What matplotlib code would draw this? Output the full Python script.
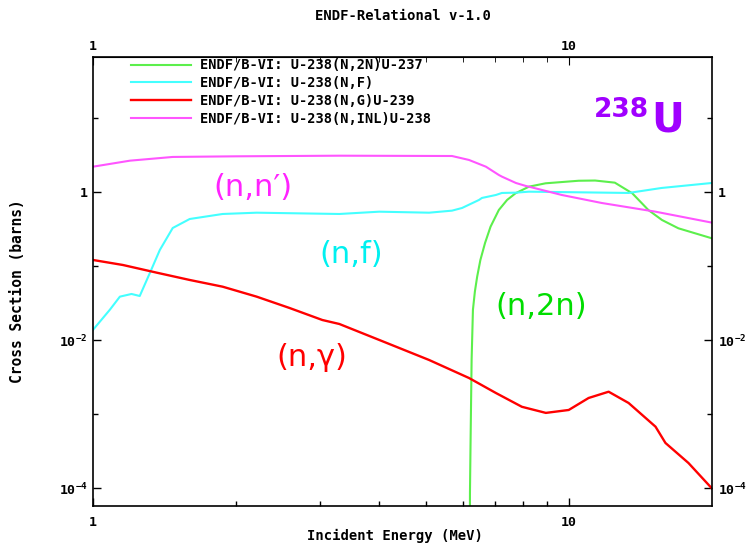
import matplotlib
matplotlib.use("Agg")
import matplotlib.pyplot as plt
from matplotlib.ticker import NullFormatter

plt.rcParams['font.family'] = 'DejaVu Sans Mono'
plt.rcParams['font.weight'] = 'bold'
plt.rcParams['mathtext.fontset'] = 'custom'
plt.rcParams['mathtext.bf'] = 'DejaVu Sans Mono:bold'
plt.rcParams['mathtext.rm'] = 'DejaVu Sans Mono:bold'

#### data (energy in MeV, cross section in barns)

# U-238 (n,2n)
n2n_e = [6.19, 6.20, 6.22, 6.25, 6.29, 6.35, 6.42, 6.52, 6.67, 6.85, 7.13, 7.42, 7.73,
         8.25, 8.94, 10.49, 11.36, 12.5, 13.6, 14.7, 15.7, 17.0, 20.0]
n2n_s = [1e-6, 8.7e-5, 0.0005, 0.0055, 0.026, 0.046, 0.0728, 0.122, 0.208, 0.345, 0.58,
         0.792, 0.975, 1.198, 1.33, 1.44, 1.45, 1.357, 0.975, 0.58, 0.425, 0.328, 0.24]

# U-238 (n,f)
fis_e = [1.0, 1.085, 1.139, 1.205, 1.254, 1.317, 1.382, 1.471, 1.597, 1.873, 2.208,
         3.295, 3.997, 5.087, 5.684, 5.967, 6.476, 6.57, 7.03, 7.237, 7.743, 8.246,
         13.36, 15.67, 20.0]
fis_s = [0.0139, 0.026, 0.0391, 0.0425, 0.0399, 0.0817, 0.167, 0.331, 0.438, 0.512,
         0.533, 0.512, 0.55, 0.533, 0.568, 0.617, 0.792, 0.843, 0.925, 0.985, 0.994,
         1.025, 0.985, 1.15, 1.344]

# U-238 (n,g)
cap_e = [1.0, 1.156, 1.362, 1.597, 1.873, 2.208, 2.588, 3.035, 3.295, 3.997, 5.087,
         6.171, 7.03, 7.971, 8.951, 10.0, 11.01, 12.13, 13.36, 15.22, 15.97, 17.85, 20.0]
cap_s = [0.1224, 0.1047, 0.0824, 0.0657, 0.0533, 0.0391, 0.0275, 0.0189, 0.0167,
         0.01016, 0.00545, 0.00311, 0.00195, 0.00127, 0.00105, 0.00115, 0.00167,
         0.00203, 0.00143, 0.000684, 0.000412, 0.000221, 0.0001]

# U-238 (n,inl)
inl_e = [1.0, 1.196, 1.471, 2.0, 3.295, 5.684, 6.171, 6.698, 7.133, 7.24, 7.743,
         8.126, 8.246, 9.667, 11.73, 15.22, 20.0]
inl_s = [2.23, 2.69, 3.02, 3.08, 3.14, 3.11, 2.75, 2.23, 1.72, 1.635, 1.344, 1.224,
         1.198, 0.925, 0.721, 0.55, 0.391]

legend_labels = ['ENDF/B-VI: U-238(N,2N)U-237',
                 'ENDF/B-VI: U-238(N,F)',
                 'ENDF/B-VI: U-238(N,G)U-239',
                 'ENDF/B-VI: U-238(N,INL)U-238']

x_major = [1, 10]
x_major_labels = ['1', '10']
x_minor = [2, 3, 4, 5, 6, 7, 8, 9]
y_major = [1e-4, 1e-2, 1]
y_major_labels = [r'$\mathbf{10^{-4}}$', r'$\mathbf{10^{-2}}$', '1']
y_minor = [1e-3, 1e-1, 10]

fig = plt.figure(figsize=(7.51, 5.44), dpi=100)
ax = fig.add_axes([0.1238, 0.0699, 0.8242, 0.8254])

ax.plot(n2n_e, n2n_s, color='#5cef4c', lw=1.5, label=legend_labels[0])
ax.plot(fis_e, fis_s, color='#44ffff', lw=1.5, label=legend_labels[1])
ax.plot(cap_e, cap_s, color='#ff0000', lw=1.7, label=legend_labels[2])
ax.plot(inl_e, inl_s, color='#ff55ff', lw=1.5, label=legend_labels[3])

ax.set_xscale('log')
ax.set_yscale('log')
ax.set_xlim(1, 20)
ax.set_ylim(5.8e-5, 67.8)

ax.set_xticks(x_major, x_major_labels)
ax.set_xticks(x_minor, minor=True)
ax.xaxis.set_minor_formatter(NullFormatter())
ax.set_yticks(y_major, y_major_labels)
ax.set_yticks(y_minor, minor=True)
ax.yaxis.set_minor_formatter(NullFormatter())

ax.tick_params(axis='both', which='both', direction='in', labelsize=9.5)
ax.tick_params(axis='x', which='major', length=6, pad=7)
ax.tick_params(axis='y', which='both', right=True, labelright=True, pad=4)
ax.tick_params(which='major', length=6, width=1)
ax.tick_params(which='minor', length=3.5, width=1)

# top axis copy
top = ax.secondary_xaxis('top')
top.set_xticks(x_major, x_major_labels)
top.set_xticks(x_minor, minor=True)
top.xaxis.set_minor_formatter(NullFormatter())
top.tick_params(which='both', direction='in', labelsize=9.5, pad=3)
top.tick_params(which='major', length=6)
top.tick_params(which='minor', length=3.5)

for s in ax.spines.values():
    s.set_linewidth(1.2)

leg = ax.legend(loc='upper left', bbox_to_anchor=(0.06, 1.0), frameon=False,
                prop={'family': 'DejaVu Sans Mono', 'weight': 'bold', 'size': 9.8},
                handlelength=4.4, handletextpad=0.6, labelspacing=0.28,
                borderpad=0.1, borderaxespad=0)

# reaction labels
ax.text(2.165, 1.15, '(n,n\u2032)', color='#ff22ff', fontsize=22,
        family='DejaVu Sans', weight='normal', ha='center', va='center')
ax.text(3.49, 0.143, '(n,f)', color='#00f0f0', fontsize=22,
        family='DejaVu Sans', weight='normal', ha='center', va='center')
ax.text(2.88, 0.0058, '(n,\u03b3)', color='#ff0000', fontsize=22,
        family='DejaVu Sans', weight='normal', ha='center', va='center')
ax.text(8.74, 0.0284, '(n,2n)', color='#00dd00', fontsize=22,
        family='DejaVu Sans', weight='normal', ha='center', va='center')
ax.text(14.72, 13.0, '238', color='#a000ff', fontsize=19,
        family='DejaVu Sans', weight='bold', ha='right', va='center')
ax.text(14.93, 9.4, 'U', color='#a000ff', fontsize=29,
        family='DejaVu Sans', weight='bold', ha='left', va='center')

fig.text(403 / 751, 1 - 16 / 544, 'ENDF-Relational v-1.0', ha='center', va='center',
         fontsize=10)
fig.text(395 / 751, 1 - 536 / 544, 'Incident Energy (MeV)', ha='center', va='center',
         fontsize=10)
fig.text(18 / 751, 1 - 291 / 544, 'Cross Section (barns)', ha='center', va='center',
         rotation=90, fontsize=10.5)

fig.savefig('out.png', dpi=100)
